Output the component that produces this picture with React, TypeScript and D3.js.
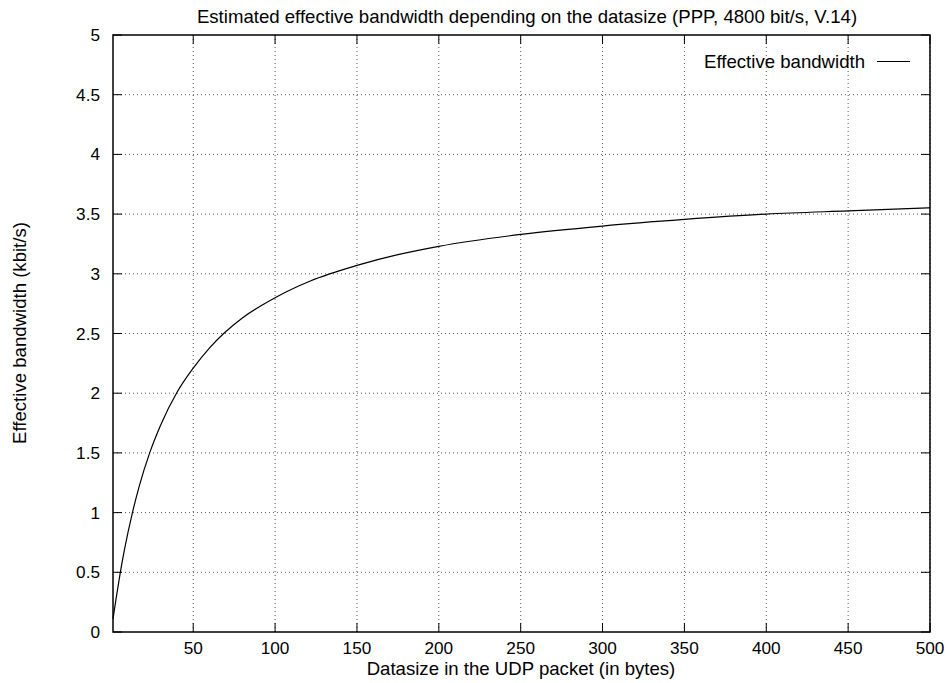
import React from "react";
import * as d3 from "d3";

const titleText = "Estimated effective bandwidth depending on the datasize (PPP, 4800 bit/s, V.14)";
const xLabel = "Datasize in the UDP packet (in bytes)";
const yLabel = "Effective bandwidth (kbit/s)";
const seriesName = "Effective bandwidth";

const xTicks = [50, 100, 150, 200, 250, 300, 350, 400, 450, 500];
const yTicks = [0, 0.5, 1, 1.5, 2, 2.5, 3, 3.5, 4, 4.5, 5];

const dataSize = [1, 3, 5.6, 8, 12.7, 17, 23.4, 30, 40.2, 50, 60, 68.6, 80, 100, 121.5, 150, 175, 200, 250, 300, 350, 400, 450, 500];
const bandwidth = [0.11, 0.29, 0.51, 0.69, 0.99, 1.22, 1.5, 1.73, 2.01, 2.21, 2.38, 2.5, 2.63, 2.8, 2.94, 3.07, 3.16, 3.23, 3.33, 3.4, 3.455, 3.5, 3.527, 3.552];

const W = 950;
const H = 683;
const left = 113;
const right = 930;
const top = 35;
const bottom = 632;

export default function App() {
  const x = d3.scaleLinear().domain([1, 500]).range([left, right]);
  const y = d3.scaleLinear().domain([0, 5]).range([bottom, top]);
  const pts: [number, number][] = dataSize.map((d, i) => [d, bandwidth[i]]);
  const line = d3
    .line<[number, number]>()
    .x((d) => x(d[0]))
    .y((d) => y(d[1]))
    .curve(d3.curveMonotoneX);
  const font = "'Liberation Sans', Arial, sans-serif";
  const tick = 9;
  const tickFs = 17.2;
  const labelFs = 18.6;
  return (
    <svg
      width={W}
      height={H}
      style={{ position: "absolute", left: 0, top: 0, background: "#fff" }}
      fontFamily={font}
    >
      <rect x={0} y={0} width={W} height={H} fill="#fff" />
      {/* grid */}
      {xTicks.map((t) => (
        <line key={"gx" + t} x1={x(t)} x2={x(t)} y1={bottom} y2={top} stroke="#555" strokeWidth={1} strokeDasharray="1,3" />
      ))}
      {yTicks.slice(1, -1).map((t) => (
        <line key={"gy" + t} x1={left} x2={right} y1={y(t)} y2={y(t)} stroke="#555" strokeWidth={1} strokeDasharray="1,3" />
      ))}
      {/* ticks */}
      {xTicks.map((t) => (
        <g key={"tx" + t}>
          <line x1={x(t)} x2={x(t)} y1={bottom} y2={bottom - tick} stroke="#000" />
          <line x1={x(t)} x2={x(t)} y1={top} y2={top + tick} stroke="#000" />
          <text x={x(t)} y={654} textAnchor="middle" fontSize={tickFs} fill="#000">{t}</text>
        </g>
      ))}
      {yTicks.map((t) => (
        <g key={"ty" + t}>
          <line x1={left} x2={left + tick} y1={y(t)} y2={y(t)} stroke="#000" />
          <line x1={right} x2={right - tick} y1={y(t)} y2={y(t)} stroke="#000" />
          <text x={100} y={y(t) + 6} textAnchor="end" fontSize={tickFs} fill="#000">{t}</text>
        </g>
      ))}
      {/* border */}
      <rect x={left} y={top} width={right - left} height={bottom - top} fill="none" stroke="#000" strokeWidth={1.5} />
      {/* curve */}
      <path d={line(pts) || ""} fill="none" stroke="#000" strokeWidth={1.2} />
      {/* legend */}
      <text x={865} y={68} textAnchor="end" fontSize={labelFs} fill="#000">{seriesName}</text>
      <line x1={877} x2={910} y1={61.5} y2={61.5} stroke="#000" strokeWidth={1} />
      {/* labels */}
      <text x={527} y={23} textAnchor="middle" fontSize={labelFs} fill="#000">{titleText}</text>
      <text x={521} y={675} textAnchor="middle" fontSize={labelFs} fill="#000">{xLabel}</text>
      <text transform={`translate(26,333) rotate(-90)`} textAnchor="middle" fontSize={labelFs} fill="#000">{yLabel}</text>
    </svg>
  );
}
